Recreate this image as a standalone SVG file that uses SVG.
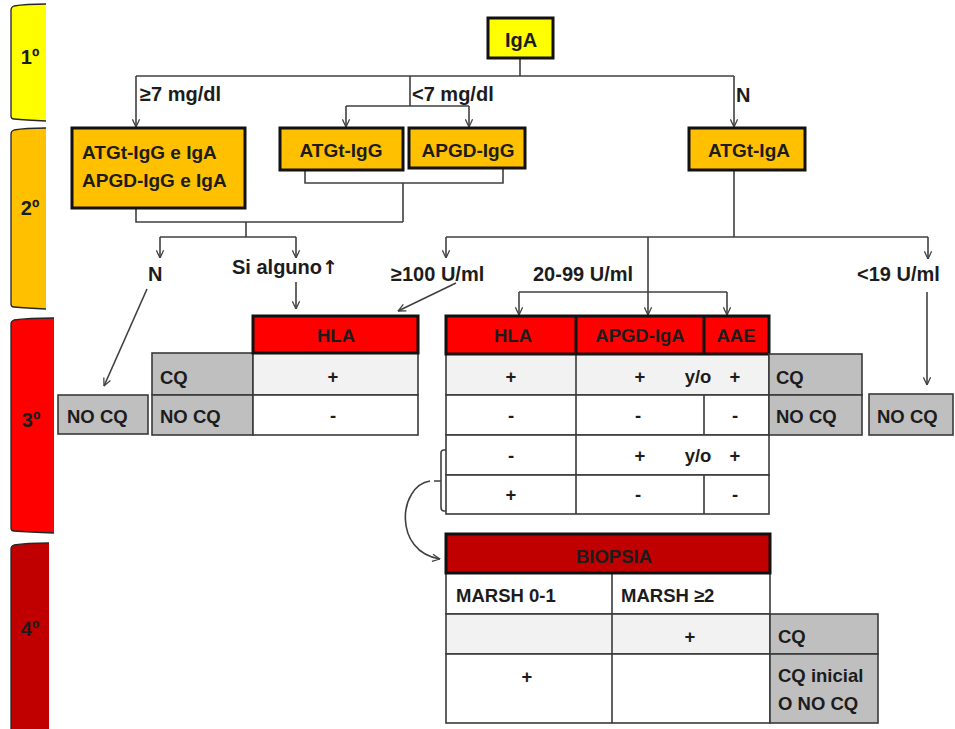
<svg xmlns="http://www.w3.org/2000/svg" width="955" height="729" viewBox="0 0 955 729">
  <defs>
    <marker id="arr" viewBox="0 0 10 10" refX="9.5" refY="5" markerWidth="9" markerHeight="9" markerUnits="userSpaceOnUse" orient="auto">
      <path d="M1,1 L9.5,5 L1,9" fill="none" stroke="#404040" stroke-width="1.4"/>
    </marker>
    <style>
      text { font-family: "Liberation Sans", Arial, sans-serif; font-weight: bold; fill: #1c1c1c; }
      .t20 { font-size: 20px; }
      .t19 { font-size: 19px; }
      .t18 { font-size: 18.5px; }
      .mid { text-anchor: middle; }
      .up { font-family: "DejaVu Sans", sans-serif; font-size: 19px; }
      .bar-edge { fill: none; stroke: #262626; stroke-width: 1.3; }
      .box { stroke: #111; stroke-width: 3; }
      .hdr { stroke: #111; stroke-width: 3; }
      .cell { stroke: #3a3a3a; stroke-width: 1.6; }
      .conn path { fill: none; stroke: #404040; stroke-width: 1.6; }
      .yellow { fill: #FFFF00; }
      .orange { fill: #FFC000; }
      .red { fill: #FF0000; }
      .dred { fill: #C00000; }
      .grey { fill: #BFBFBF; }
      .lite { fill: #F2F2F2; }
      .white { fill: #FFFFFF; }
    </style>
  </defs>

  <rect width="955" height="729" fill="#FFFFFF"/>

  <!-- stage bars -->
  <g id="stage-1">
    <path class="yellow" d="M46,4 Q25,4 14,6 Q11,7 11,10 L11,116 Q11,119 14,119 Q25,120 46,121 Z"/>
    <path class="bar-edge" d="M46,4 Q25,4 14,6 Q11,7 11,10 L11,116 Q11,119 14,119 Q25,120 46,121"/>
    <text class="t20 mid" x="30" y="64">1º</text>
  </g>
  <g id="stage-2">
    <path class="orange" d="M46,128 Q25,128 14,130 Q11,131 11,134 L11,304 Q11,307 14,307 Q25,308 46,309 Z"/>
    <path class="bar-edge" d="M46,128 Q25,128 14,130 Q11,131 11,134 L11,304 Q11,307 14,307 Q25,308 46,309"/>
    <text class="t20 mid" x="30" y="215">2º</text>
  </g>
  <g id="stage-3">
    <path class="red" d="M54,318 Q28,318 14,320 Q11,321 11,324 L11,528 Q11,531 14,531 Q28,532 54,533 Z"/>
    <path class="bar-edge" d="M54,318 Q28,318 14,320 Q11,321 11,324 L11,528 Q11,531 14,531 Q28,532 54,533"/>
    <text class="t20 mid" x="31" y="427">3º</text>
  </g>
  <g id="stage-4">
    <path class="dred" d="M49,543 Q26,543 14,545 Q11,546 11,549 L11,729 L49,729 Z"/>
    <path class="bar-edge" d="M49,543 Q26,543 14,545 Q11,546 11,549 L11,729"/>
    <text class="t20 mid" x="30" y="636">4º</text>
  </g>

  <!-- connectors -->
  <g id="connectors" class="conn">
    <path d="M520,58 V76 M136,76 H734 M410,76 V106 M346,106 H469"/>
    <path d="M136,76 V127" marker-end="url(#arr)"/>
    <path d="M734,76 V127" marker-end="url(#arr)"/>
    <path d="M346,106 V127" marker-end="url(#arr)"/>
    <path d="M469,106 V127" marker-end="url(#arr)"/>
    <path d="M305,170 V183 H503 V168 M403,183 V222 M136,208 V222 H403 M246,222 V237 M160,237 H296"/>
    <path d="M160,237 V258" marker-end="url(#arr)"/>
    <path d="M296,237 V258" marker-end="url(#arr)"/>
    <path d="M296,282 V309" marker-end="url(#arr)"/>
    <path d="M147,289 L104,386" marker-end="url(#arr)"/>
    <path d="M734,170 V237 M446,237 H928 M519,292 H727"/>
    <path d="M446,237 V258" marker-end="url(#arr)"/>
    <path d="M928,237 V259" marker-end="url(#arr)"/>
    <path d="M648,237 V315" marker-end="url(#arr)"/>
    <path d="M519,292 V315" marker-end="url(#arr)"/>
    <path d="M727,292 V315" marker-end="url(#arr)"/>
    <path d="M456,283 L398,311" marker-end="url(#arr)"/>
    <path d="M927,292 V385" marker-end="url(#arr)"/>
    <path d="M446,450 H444 Q441,450 441,453 V507 Q441,511 444,511 H446 M441,481 H434"/>
    <path d="M430,481 C398,486 393,552 440,559" marker-end="url(#arr)"/>
  </g>

  <!-- first level -->
  <g id="node-iga">
    <rect class="box yellow" x="488" y="18" width="65" height="40"/>
    <text class="t20 mid" x="521" y="47">IgA</text>
  </g>

  <!-- connector labels -->
  <g id="labels">
    <text class="t20" x="140" y="101">≥7 mg/dl</text>
    <text class="t20" x="412" y="101">&lt;7 mg/dl</text>
    <text class="t20" x="736" y="102">N</text>
    <text class="t20" x="148" y="281">N</text>
    <text class="t20" x="232" y="274">Si alguno<tspan class="up">↑</tspan></text>
    <text class="t20" x="391" y="281">≥100 U/ml</text>
    <text class="t20" x="533" y="281">20-99 U/ml</text>
    <text class="t20" x="857" y="281">&lt;19 U/ml</text>
  </g>

  <!-- second level -->
  <g id="node-atgt-igg-iga">
    <rect class="box orange" x="72" y="128" width="173" height="80"/>
    <text class="t19" x="82" y="159">ATGt-IgG e IgA</text>
    <text class="t19" x="82" y="187">APGD-IgG e IgA</text>
  </g>
  <g id="node-atgt-igg">
    <rect class="box orange" x="280" y="128" width="123" height="42"/>
    <text class="t19 mid" x="341" y="157">ATGt-IgG</text>
  </g>
  <g id="node-apgd-igg">
    <rect class="box orange" x="409" y="128" width="116" height="40"/>
    <text class="t19 mid" x="468" y="157">APGD-IgG</text>
  </g>
  <g id="node-atgt-iga">
    <rect class="box orange" x="689" y="128" width="116" height="42"/>
    <text class="t19 mid" x="749" y="157">ATGt-IgA</text>
  </g>

  <!-- third level: HLA table after IgG tests -->
  <g id="table-hla-left">
    <rect class="cell grey" x="152" y="353" width="101" height="42"/>
    <rect class="cell grey" x="152" y="395" width="101" height="40"/>
    <rect class="cell lite" x="253" y="353" width="165" height="42"/>
    <rect class="cell white" x="253" y="395" width="165" height="40"/>
    <rect class="hdr red" x="253" y="316" width="165" height="37"/>
    <text class="t18 mid" x="336" y="342">HLA</text>
    <text class="t18" x="160" y="384">CQ</text>
    <text class="t18" x="160" y="423">NO CQ</text>
    <text class="t18 mid" x="333" y="383">+</text>
    <text class="t18 mid" x="333" y="422">-</text>
  </g>
  <g id="node-nocq-left">
    <rect class="cell grey" x="58" y="395" width="90" height="39"/>
    <text class="t18" x="67" y="423">NO CQ</text>
  </g>

  <!-- third level: table after IgA tests -->
  <g id="table-iga">
    <rect class="cell lite" x="446" y="354" width="323" height="41"/>
    <rect class="cell white" x="446" y="395" width="323" height="40"/>
    <rect class="cell white" x="446" y="435" width="323" height="40"/>
    <rect class="cell white" x="446" y="475" width="323" height="39"/>
    <path class="cell" d="M576,354 V514 M704,395 V435 M704,475 V514"/>
    <rect class="hdr red" x="446" y="316" width="323" height="38"/>
    <path class="hdr" d="M576,316 V354 M704,316 V354"/>
    <text class="t18 mid" x="513" y="342">HLA</text>
    <text class="t18 mid" x="640" y="342">APGD-IgA</text>
    <text class="t18 mid" x="736" y="342">AAE</text>
    <text class="t18 mid" x="511" y="383">+</text>
    <text class="t18 mid" x="640" y="383">+</text>
    <text class="t18 mid" x="698" y="383">y/o</text>
    <text class="t18 mid" x="735" y="383">+</text>
    <text class="t18 mid" x="511" y="422">-</text>
    <text class="t18 mid" x="638" y="422">-</text>
    <text class="t18 mid" x="735" y="422">-</text>
    <text class="t18 mid" x="511" y="462">-</text>
    <text class="t18 mid" x="640" y="462">+</text>
    <text class="t18 mid" x="698" y="462">y/o</text>
    <text class="t18 mid" x="735" y="462">+</text>
    <text class="t18 mid" x="511" y="501">+</text>
    <text class="t18 mid" x="638" y="501">-</text>
    <text class="t18 mid" x="735" y="501">-</text>
    <rect class="cell grey" x="769" y="354" width="93" height="41"/>
    <rect class="cell grey" x="769" y="395" width="93" height="40"/>
    <text class="t18" x="776" y="384">CQ</text>
    <text class="t18" x="776" y="423">NO CQ</text>
  </g>
  <g id="node-nocq-right">
    <rect class="cell grey" x="869" y="394" width="84" height="41"/>
    <text class="t18" x="877" y="423">NO CQ</text>
  </g>

  <!-- fourth level: biopsy -->
  <g id="table-biopsia">
    <rect class="cell white" x="446" y="573" width="324" height="41"/>
    <rect class="cell lite" x="446" y="614" width="324" height="40"/>
    <rect class="cell white" x="446" y="654" width="324" height="69"/>
    <path class="cell" d="M612,573 V723"/>
    <rect class="hdr dred" x="446" y="534" width="324" height="39"/>
    <text class="t18 mid" x="614" y="563">BIOPSIA</text>
    <text class="t18" x="456" y="602">MARSH 0-1</text>
    <text class="t18" x="621" y="602">MARSH ≥2</text>
    <text class="t18 mid" x="690" y="643">+</text>
    <text class="t18 mid" x="527" y="683">+</text>
    <rect class="cell grey" x="770" y="614" width="108" height="40"/>
    <rect class="cell grey" x="770" y="654" width="108" height="69"/>
    <text class="t18" x="778" y="643">CQ</text>
    <text class="t18" x="778" y="682">CQ inicial</text>
    <text class="t18" x="778" y="710">O NO CQ</text>
  </g>
</svg>
